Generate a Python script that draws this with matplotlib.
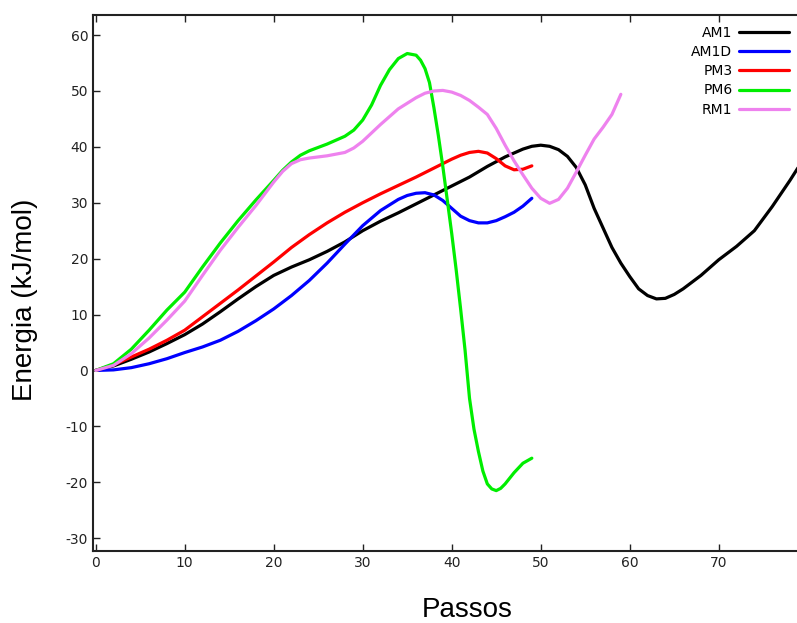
import matplotlib
matplotlib.use('Agg')
import matplotlib.pyplot as plt

plt.rcParams['axes.unicode_minus'] = False

# energia ao longo dos passos para cada metodo semi-empirico
am1_x = [0, 2, 4, 6, 8, 10, 12, 14, 16, 18, 20, 22, 24, 26, 28, 30, 32, 34, 36, 38,
         40, 42, 44, 46, 48, 49, 50, 51, 52, 53, 54, 55, 56, 57, 58, 59, 60, 61, 62,
         63, 64, 65, 66, 68, 70, 72, 74, 76, 78, 80]
am1_y = [0, 0.8, 2.0, 3.3, 4.8, 6.4, 8.3, 10.5, 12.8, 15.0, 17.0, 18.5, 19.8, 21.3, 23.0,
         25.0, 26.7, 28.2, 29.8, 31.4, 33.0, 34.6, 36.5, 38.2, 39.6, 40.1, 40.3, 40.1,
         39.5, 38.3, 36.3, 33.2, 29.0, 25.5, 22.0, 19.2, 16.8, 14.6, 13.4, 12.8, 12.9,
         13.6, 14.6, 17.0, 19.8, 22.2, 25.0, 29.3, 34.0, 39.0]

am1d_x = [0, 2, 4, 6, 8, 10, 12, 14, 16, 18, 20, 22, 24, 26, 28, 30, 32, 34, 35, 36,
          37, 38, 39, 40, 41, 42, 43, 44, 45, 46, 47, 48, 49]
am1d_y = [0, 0.1, 0.5, 1.2, 2.1, 3.2, 4.2, 5.4, 7.0, 8.9, 11.0, 13.4, 16.1, 19.2, 22.6,
          25.9, 28.6, 30.6, 31.3, 31.7, 31.8, 31.4, 30.4, 29.0, 27.6, 26.8, 26.4, 26.4,
          26.8, 27.5, 28.3, 29.4, 30.8]

pm3_x = [0, 2, 4, 6, 8, 10, 12, 14, 16, 18, 20, 22, 24, 26, 28, 30, 32, 34, 36, 38,
         40, 41, 42, 43, 44, 45, 46, 47, 48, 49]
pm3_y = [0, 1.0, 2.4, 3.8, 5.4, 7.2, 9.6, 12.0, 14.4, 16.9, 19.4, 22.0, 24.3, 26.4, 28.3,
         30.0, 31.6, 33.1, 34.6, 36.2, 37.8, 38.5, 39.0, 39.2, 38.9, 37.9, 36.6, 35.9,
         36.0, 36.6]

pm6_x = [0, 2, 4, 6, 8, 10, 12, 14, 16, 18, 20, 21, 22, 23, 24, 26, 28, 29, 30, 31, 32,
         33, 34, 35, 36, 36.5, 37, 37.5, 38, 38.5, 39, 39.5, 40, 40.5, 41, 41.5, 42,
         42.5, 43, 43.5, 44, 44.5, 45, 45.5, 46, 47, 48, 49]
pm6_y = [0, 1.2, 3.8, 7.2, 10.8, 14.0, 18.5, 22.8, 26.8, 30.5, 34.0, 35.8, 37.3, 38.5,
         39.3, 40.5, 41.9, 43.0, 44.8, 47.5, 51.0, 53.8, 55.8, 56.7, 56.4, 55.5, 54.0,
         51.5, 47.0, 42.0, 36.5, 30.5, 24.5, 18.0, 11.0, 3.6, -5.0, -10.5, -14.5, -18.0,
         -20.3, -21.2, -21.5, -21.1, -20.3, -18.3, -16.6, -15.7]

rm1_x = [0, 2, 4, 6, 8, 10, 12, 14, 16, 18, 20, 21, 22, 23, 24, 26, 28, 29, 30, 32, 34,
         36, 37, 38, 39, 40, 41, 42, 43, 44, 45, 46, 47, 48, 49, 50, 51, 52, 53, 54, 55,
         56, 57, 58, 59]
rm1_y = [0, 0.9, 3.0, 5.8, 9.0, 12.4, 17.0, 21.5, 25.6, 29.5, 33.7, 35.6, 37.0, 37.7,
         38.0, 38.4, 39.0, 39.8, 41.0, 44.0, 46.8, 48.8, 49.6, 50.0, 50.1, 49.8, 49.2,
         48.3, 47.1, 45.8, 43.3, 40.3, 37.5, 35.0, 32.6, 30.8, 29.9, 30.6, 32.6, 35.5,
         38.5, 41.4, 43.5, 45.8, 49.4]

series = [
    ('AM1', am1_x, am1_y, 'black'),
    ('AM1D', am1d_x, am1d_y, '#0000ff'),
    ('PM3', pm3_x, pm3_y, '#ff0000'),
    ('PM6', pm6_x, pm6_y, '#00ee00'),
    ('RM1', rm1_x, rm1_y, '#ee82ee'),
]

fig = plt.figure(figsize=(7.97, 6.23), dpi=100)
ax = fig.add_axes([0.1167, 0.1156, 0.8968, 0.8604])

for name, xs, ys, cor in series:
    ax.plot(xs, ys, color=cor, linewidth=2.3, label=name,
            solid_joinstyle='round', solid_capstyle='round')

ax.set_xlim(-0.3, 80)
ax.set_ylim(-32.3, 63.6)
ax.set_xticks(range(0, 80, 10))
ax.set_yticks(range(-30, 61, 10))
ax.tick_params(direction='in', top=True, right=False, length=5, width=1,
               labelsize=10, colors='#222222')
for s in ax.spines.values():
    s.set_linewidth(1.5)
    s.set_color('#222222')

ax.legend(loc='upper right', bbox_to_anchor=(795 / 797, (623 - 20) / 623),
          bbox_transform=fig.transFigure, frameon=False, markerfirst=False,
          handlelength=3.6, handletextpad=0.5, labelspacing=0.38, fontsize=10,
          borderaxespad=0)

fig.text(25 / 797, 1 - 300 / 623, 'Energia (kJ/mol)', rotation=90, ha='center',
         va='center', fontsize=20, family='Liberation Sans')
fig.text(467 / 797, 1 - 610 / 623, 'Passos', ha='center', va='center',
         fontsize=20, family='Liberation Sans')

fig.savefig('out.png', dpi=100)
